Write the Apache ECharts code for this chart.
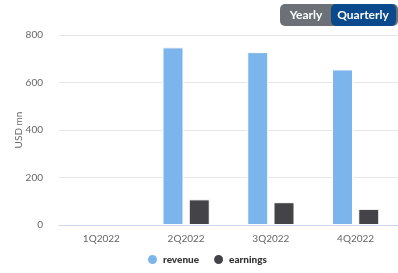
<!DOCTYPE html>
<html>
<head>
<meta charset="utf-8">
<script src="https://cdn.jsdelivr.net/npm/echarts@6/dist/echarts.min.js"></script>
<style>
  html, body { margin: 0; padding: 0; background: #fff; }
  #main { width: 398px; height: 273px; }
</style>
</head>
<body>
<div id="main"></div>
<script>
  var quarters = ["1Q2022", "2Q2022", "3Q2022", "4Q2022"];
  var revenue = [null, 748, 728, 655];
  var earnings = [null, 108, 96, 68];
  var yTicks = [0, 200, 400, 600, 800];

  var chartDom = document.getElementById("main");
  var myChart = echarts.init(chartDom);
  var option;

  option = {
    animation: false,
    textStyle: { fontFamily: "Lato, 'Noto Sans', sans-serif" },
    grid: { left: 59, right: -3, top: 35, bottom: 48 },
    legend: {
      bottom: 2,
      left: 141,
      icon: "circle",
      itemWidth: 11,
      itemHeight: 11,
      itemGap: 13,
      textStyle: { fontSize: 10, fontWeight: 900, color: "#333", fontFamily: "Lato, sans-serif" },
      data: ["revenue", "earnings"]
    },
    xAxis: {
      type: "category",
      data: quarters,
      axisLine: { lineStyle: { color: "#ccd6eb" } },
      axisTick: { show: false },
      axisLabel: { color: "#666", fontSize: 10, margin: 9 }
    },
    yAxis: {
      type: "value",
      min: yTicks[0],
      max: yTicks[yTicks.length - 1],
      interval: 200,
      name: "USD mn",
      nameLocation: "middle",
      nameGap: 35,
      nameMoveOverlap: false,
      nameTextStyle: { color: "#666", fontSize: 10 },
      axisLabel: { color: "#666", fontSize: 10, margin: 16 },
      splitLine: { lineStyle: { color: "#e6e6e6" } }
    },
    series: [
      {
        name: "revenue",
        type: "bar",
        data: revenue,
        barWidth: 21,
        barGap: "25%",
        itemStyle: { color: "#7cb5ec", borderColor: "#fff", borderWidth: 1 }
      },
      {
        name: "earnings",
        type: "bar",
        data: earnings,
        barWidth: 21,
        itemStyle: { color: "#434348", borderColor: "#fff", borderWidth: 1 }
      }
    ],
    graphic: [
      {
        type: "rect",
        shape: { x: 280, y: 4, width: 118, height: 22, r: 5 },
        style: { fill: "#6b7176" }
      },
      {
        type: "rect",
        shape: { x: 331, y: 4, width: 65, height: 22, r: 5 },
        style: { fill: "#0a4a8c" }
      },
      {
        type: "text",
        x: 306, y: 15,
        style: { text: "Yearly", fill: "#fff", font: "bold 12px Lato, sans-serif", align: "center", verticalAlign: "middle" }
      },
      {
        type: "text",
        x: 363, y: 15,
        style: { text: "Quarterly", fill: "#fff", font: "bold 12px Lato, sans-serif", align: "center", verticalAlign: "middle" }
      }
    ]
  };

  option && myChart.setOption(option);
</script>
</body>
</html>
